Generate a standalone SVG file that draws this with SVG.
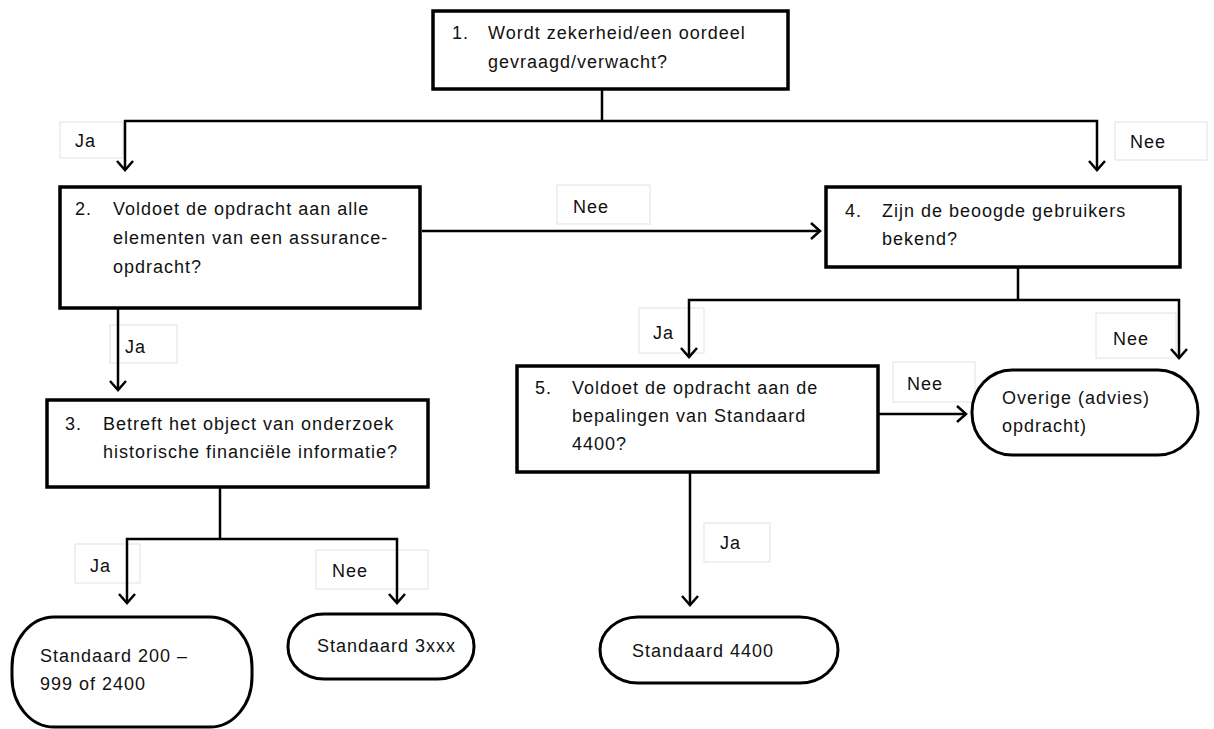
<svg xmlns="http://www.w3.org/2000/svg" width="1214" height="729" viewBox="0 0 1214 729">
<style>
.box{fill:#fff;stroke:#000;stroke-width:3.5}
.term{fill:#fff;stroke:#000;stroke-width:3}
.lbl{fill:#fff;stroke:#e2e2e2;stroke-width:1}
.t{font-family:"Liberation Sans",Arial,sans-serif;font-size:18px;letter-spacing:1px;fill:#111}
.c{fill:none;stroke:#000;stroke-width:2.5}
</style>
<defs>
<marker id="ah" viewBox="-10 -10 12 20" refX="0" refY="0" markerWidth="12" markerHeight="20" markerUnits="userSpaceOnUse" orient="auto">
<path d="M-9,-8 L0,0 L-9,8" fill="none" stroke="#000" stroke-width="2.5"/>
</marker>
</defs>
<rect width="1214" height="729" fill="#fff"/>
<g id="labels">
<rect class="lbl" x="60" y="122" width="63" height="36"/>
<text class="t" x="75" y="147">Ja</text>
<rect class="lbl" x="1115" y="122" width="92" height="38"/>
<text class="t" x="1130" y="148">Nee</text>
<rect class="lbl" x="557" y="185" width="93" height="39"/>
<text class="t" x="573" y="213">Nee</text>
<rect class="lbl" x="110" y="325" width="67" height="38"/>
<text class="t" x="125" y="353">Ja</text>
<rect class="lbl" x="639" y="308" width="65" height="45"/>
<text class="t" x="653" y="339">Ja</text>
<rect class="lbl" x="1096" y="313" width="80" height="45"/>
<text class="t" x="1113" y="345">Nee</text>
<rect class="lbl" x="893" y="362" width="82" height="40"/>
<text class="t" x="907" y="390">Nee</text>
<rect class="lbl" x="75" y="544" width="65" height="39"/>
<text class="t" x="90" y="572">Ja</text>
<rect class="lbl" x="316" y="550" width="112" height="39"/>
<text class="t" x="332" y="577">Nee</text>
<rect class="lbl" x="704" y="523" width="66" height="39"/>
<text class="t" x="720" y="549">Ja</text>
</g>
<g id="connectors">
<path class="c" d="M602,89 V121"/>
<path class="c" d="M602,121 H125 V170" marker-end="url(#ah)"/>
<path class="c" d="M602,121 H1097 V170" marker-end="url(#ah)"/>
<path class="c" d="M422,231 H820" marker-end="url(#ah)"/>
<path class="c" d="M118,308 V390" marker-end="url(#ah)"/>
<path class="c" d="M1018,267 V300"/>
<path class="c" d="M1018,300 H689 V357" marker-end="url(#ah)"/>
<path class="c" d="M1018,300 H1179 V358" marker-end="url(#ah)"/>
<path class="c" d="M878,414 H966" marker-end="url(#ah)"/>
<path class="c" d="M220,487 V539"/>
<path class="c" d="M220,539 H127 V603" marker-end="url(#ah)"/>
<path class="c" d="M220,539 H397 V603" marker-end="url(#ah)"/>
<path class="c" d="M690,472 V605" marker-end="url(#ah)"/>
</g>
<g id="n1">
<rect class="box" x="433" y="11" width="355" height="78"/>
<text class="t" x="452" y="39">1.</text>
<text class="t" x="488" y="39">Wordt zekerheid/een oordeel</text>
<text class="t" x="488" y="68">gevraagd/verwacht?</text>
</g>
<g id="n2">
<rect class="box" x="60" y="187" width="360" height="121"/>
<text class="t" x="75" y="215">2.</text>
<text class="t" x="113" y="215">Voldoet de opdracht aan alle</text>
<text class="t" x="113" y="244">elementen van een assurance-</text>
<text class="t" x="113" y="273">opdracht?</text>
</g>
<g id="n3">
<rect class="box" x="47" y="400" width="381" height="87"/>
<text class="t" x="65" y="430">3.</text>
<text class="t" x="103" y="430">Betreft het object van onderzoek</text>
<text class="t" x="103" y="458">historische financiële informatie?</text>
</g>
<g id="n4">
<rect class="box" x="826" y="187" width="354" height="80"/>
<text class="t" x="845" y="217">4.</text>
<text class="t" x="882" y="217">Zijn de beoogde gebruikers</text>
<text class="t" x="882" y="245">bekend?</text>
</g>
<g id="n5">
<rect class="box" x="517" y="366" width="361" height="106"/>
<text class="t" x="535" y="394">5.</text>
<text class="t" x="572" y="394">Voldoet de opdracht aan de</text>
<text class="t" x="572" y="422">bepalingen van Standaard</text>
<text class="t" x="572" y="450">4400?</text>
</g>
<g id="t1">
<rect class="term" x="12" y="617" width="240" height="110" rx="42" ry="50"/>
<text class="t" x="40" y="662">Standaard 200 –</text>
<text class="t" x="40" y="690">999 of 2400</text>
</g>
<g id="t2">
<rect class="term" x="288" y="614" width="186" height="65" rx="36" ry="32"/>
<text class="t" x="317" y="652">Standaard 3xxx</text>
</g>
<g id="t3">
<rect class="term" x="600" y="617" width="238" height="66" rx="38" ry="33"/>
<text class="t" x="632" y="657">Standaard 4400</text>
</g>
<g id="t4">
<rect class="term" x="972" y="370" width="226" height="85" rx="40" ry="42"/>
<text class="t" x="1002" y="404">Overige (advies)</text>
<text class="t" x="1002" y="432">opdracht)</text>
</g>
</svg>
